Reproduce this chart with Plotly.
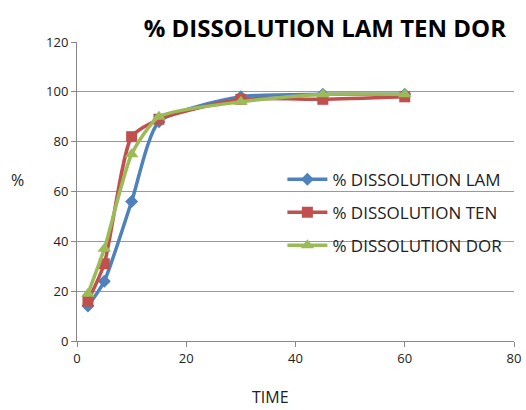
import plotly.graph_objects as go

time = [2, 5, 10, 15, 30, 45, 60]
lam = [14, 24, 56, 88, 98, 99, 99]
ten = [16, 31, 82, 89, 97, 97, 98]
dor = [19, 37, 75, 90, 96, 99, 99]

names = ["% DISSOLUTION LAM", "% DISSOLUTION TEN", "% DISSOLUTION DOR"]
series = [lam, ten, dor]
colors = ["#4F81BD", "#C0504D", "#9BBB59"]
symbols = ["diamond", "square", "triangle-up"]
sizes = [10, 11, 12]

fig = go.Figure()
for i, (n, s, c, m, sz) in enumerate(zip(names, series, colors, symbols, sizes)):
    fig.add_trace(go.Scatter(
        x=time, y=s, name=n, mode="lines+markers", legendgroup=f"g{i}",
        line=dict(color=c, width=3.5, shape="spline", smoothing=0.6),
        marker=dict(symbol=m, size=sz, color=c),
    ))

font = "Open Sans, Liberation Sans, Arial"
W, L, T, B = 437, 77, 42, 69
fig.update_layout(
    width=526, height=410,
    margin=dict(l=L, r=12, t=T, b=B),
    paper_bgcolor="white", plot_bgcolor="white",
    font=dict(family=font, size=13, color="#222"),
    title=dict(text="<b>% DISSOLUTION LAM TEN DOR</b>", x=0.962, xanchor="right",
               y=0.93, yanchor="middle", font=dict(size=24, color="black", family=font)),
    xaxis=dict(range=[0, 80], dtick=20, showgrid=False, showline=True, linecolor="#888",
               linewidth=1, ticks="outside", ticklen=5, tickcolor="#888", zeroline=False,
               automargin=False),
    yaxis=dict(range=[0, 120], dtick=20, showgrid=True, gridcolor="#999", gridwidth=1,
               showline=True, linecolor="#888", linewidth=1, ticks="outside", ticklen=5,
               tickcolor="#888", zeroline=False, automargin=False),
    legend=dict(x=0.47, y=0.60, xanchor="left", yanchor="top", bgcolor="rgba(0,0,0,0)",
                font=dict(size=17), tracegroupgap=8, itemwidth=40),
    showlegend=True,
    annotations=[
        dict(text="%", x=(17 - L) / W, y=(341 - 180) / 299, xref="paper", yref="paper",
             showarrow=False, xanchor="center", yanchor="middle",
             font=dict(size=16, color="#222")),
        dict(text="TIME", x=(270 - L) / W, y=(341 - 397) / 299, xref="paper", yref="paper",
             showarrow=False, xanchor="center", yanchor="middle",
             font=dict(size=16, color="#222")),
    ],
)
fig.write_html("out.html")
